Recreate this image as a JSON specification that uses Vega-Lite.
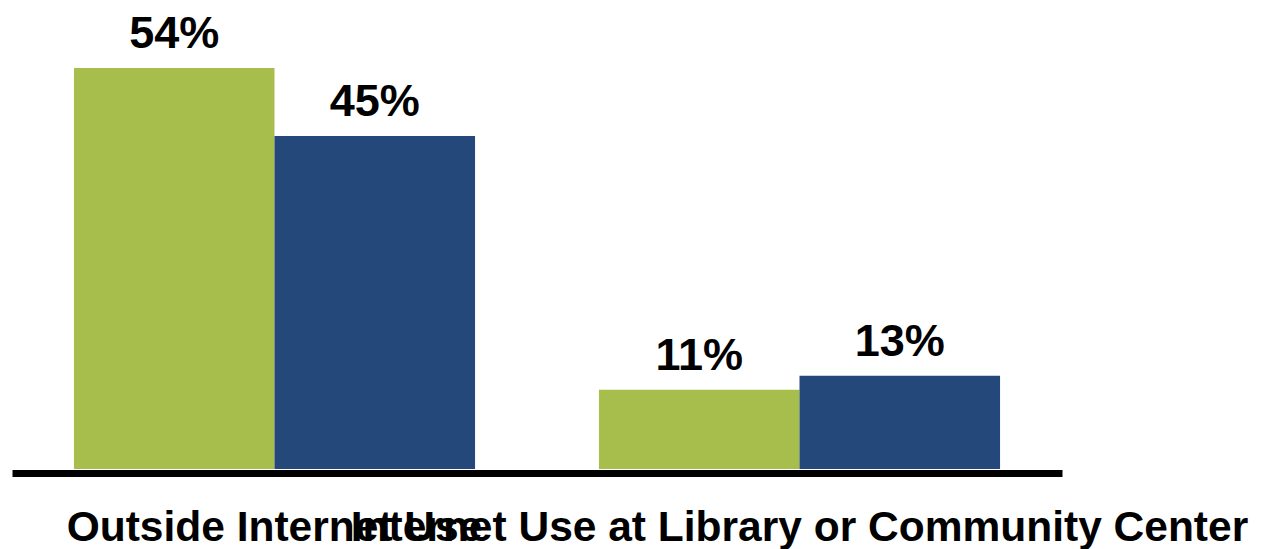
{
  "$schema": "https://vega.github.io/schema/vega-lite/v6.json",
  "autosize": {"type": "none"},
  "width": 1264,
  "height": 469,
  "padding": {"top": 0, "left": 0, "right": 0, "bottom": 80},
  "background": "white",
  "config": {"view": {"stroke": null}, "font": "Liberation Sans"},
  "data": {"values": [
    {"category": "Outside Internet Use", "series": "A", "value": 54.2, "label": "54%"},
    {"category": "Outside Internet Use", "series": "B", "value": 45.0, "label": "45%"},
    {"category": "Internet Use at Library or Community Center", "series": "A", "value": 10.7, "label": "11%"},
    {"category": "Internet Use at Library or Community Center", "series": "B", "value": 12.6, "label": "13%"}
  ]},
  "encoding": {
    "x": {"field": "category", "type": "nominal", "sort": null,
      "scale": {"range": [12, 1062], "paddingInner": 0.236, "paddingOuter": 0.118},
      "axis": {"title": null, "domainColor": "black", "domainWidth": 7, "offset": 4, "ticks": false, "tickSize": 0,
        "labelFontSize": 42.5, "labelFontWeight": "bold", "labelColor": "black", "labelAngle": 0,
        "labelBaseline": "alphabetic", "labelPadding": 67, "labelOverlap": false, "labelLimit": 0, "labelFont": "Liberation Sans"}},
    "xOffset": {"field": "series", "type": "nominal", "scale": {"paddingInner": 0, "paddingOuter": 0}},
    "y": {"field": "value", "type": "quantitative", "scale": {"domain": [0, 63.4], "nice": false}, "axis": null}
  },
  "layer": [
    {"mark": {"type": "bar"},
     "encoding": {"color": {"field": "series", "type": "nominal", "scale": {"domain": ["A", "B"], "range": ["#A7BE4C", "#24487A"]}, "legend": null}}},
    {"mark": {"type": "text", "baseline": "alphabetic", "dy": -20, "fontSize": 45, "fontWeight": "bold", "color": "black"},
     "encoding": {"text": {"field": "label"}}}
  ]
}
